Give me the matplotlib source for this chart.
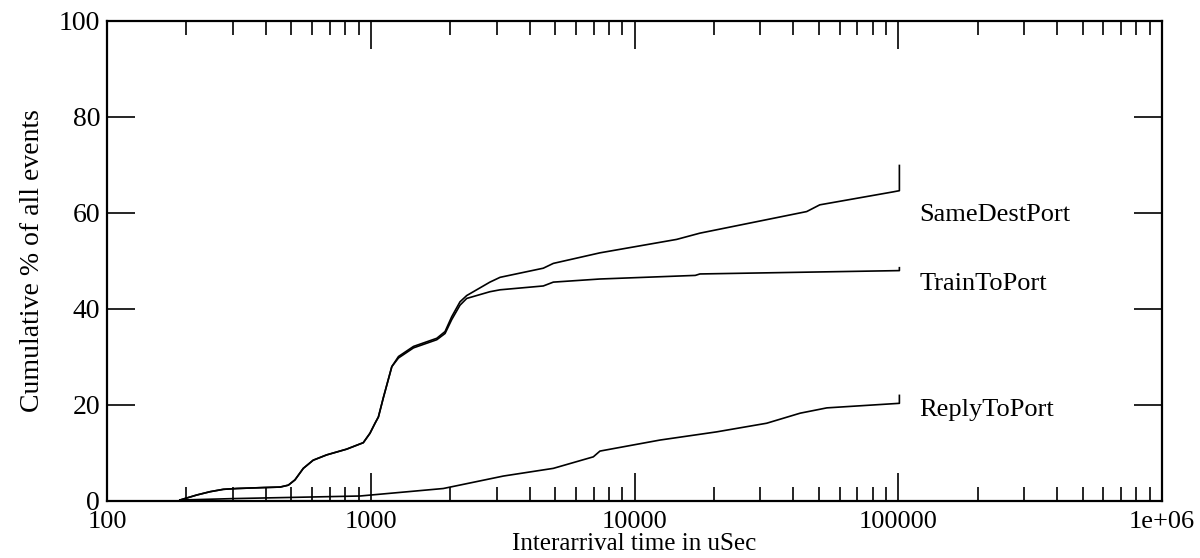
import matplotlib
matplotlib.use("Agg")
import matplotlib.pyplot as plt
from matplotlib.ticker import LogLocator, FixedLocator, NullFormatter

plt.rcParams['font.family'] = ['Liberation Serif', 'DejaVu Serif']

# cumulative % of events vs interarrival time (uSec)
same_x = [189, 219, 246, 276, 310, 392, 453, 487, 516, 555, 605, 680, 810, 937, 993,
          1038, 1069, 1116, 1202, 1274, 1452, 1780, 1913, 2028, 2180, 2311, 2830, 3093,
          4510, 4923, 7396, 14450, 17700, 44970, 50400, 95600, 101000, 101000]
same_y = [0.2, 1.25, 1.94, 2.43, 2.6, 2.8, 2.9, 3.3, 4.4, 6.8, 8.5, 9.6, 10.8, 12.15, 14.1,
          16.2, 17.5, 21.5, 28.0, 30.1, 32.2, 33.9, 35.3, 38.4, 41.5, 42.8, 45.6, 46.6,
          48.5, 49.5, 51.7, 54.5, 55.8, 60.3, 61.7, 64.4, 64.65, 69.9]

train_x = [189, 219, 246, 276, 310, 392, 453, 487, 516, 555, 605, 680, 810, 937, 993,
           1038, 1069, 1116, 1202, 1274, 1452, 1780, 1913, 2028, 2180, 2311, 2830, 3093,
           4510, 4923, 7396, 17000, 17700, 101000, 101000]
train_y = [0.2, 1.25, 1.94, 2.43, 2.6, 2.8, 2.9, 3.3, 4.4, 6.8, 8.5, 9.6, 10.8, 12.15, 14.1,
           16.2, 17.5, 21.5, 28.0, 29.8, 31.9, 33.6, 34.9, 37.8, 40.8, 42.2, 43.6, 44.0,
           44.8, 45.6, 46.25, 47.0, 47.3, 48.0, 48.6]

reply_x = [189, 301, 910, 1883, 3185, 4923, 6980, 7396, 12500, 20470, 31700, 42500,
           53600, 101000, 101000]
reply_y = [0.2, 0.5, 1.04, 2.6, 5.2, 6.8, 9.2, 10.4, 12.7, 14.4, 16.2, 18.3,
           19.4, 20.35, 22.0]

labels = ['SameDestPort', 'TrainToPort', 'ReplyToPort']
label_y = [59.6, 45.3, 19.0]

fig = plt.figure(figsize=(12, 5.58), dpi=100)
ax = fig.add_axes([107 / 1200, 57 / 558, 1055 / 1200, 480 / 558])

for xs, ys in [(same_x, same_y), (train_x, train_y), (reply_x, reply_y)]:
    ax.plot(xs, ys, color='black', lw=1.2)

for lab, ly in zip(labels, label_y):
    ax.text(120000, ly, lab, fontsize=19, va='center', ha='left')

ax.set_xscale('log')
ax.set_xlim(100, 1e6)
ax.set_ylim(0, 100)
ax.xaxis.set_major_locator(FixedLocator([100, 1000, 10000, 100000, 1e6]))
ax.set_xticklabels(['100', '1000', '10000', '100000', '1e+06'])
ax.xaxis.set_minor_locator(LogLocator(base=10, subs=range(2, 10)))
ax.xaxis.set_minor_formatter(NullFormatter())
ax.set_yticks([0, 20, 40, 60, 80, 100])

ax.tick_params(which='major', direction='in', length=20, width=1.2,
               top=True, right=True, labelsize=20, pad=5)
ax.tick_params(axis='x', which='major', labelsize=19, pad=7)
ax.tick_params(which='minor', direction='in', length=10, width=1.2,
               top=True, right=True)
for sp in ax.spines.values():
    sp.set_linewidth(1.6)

ax.set_xlabel('Interarrival time in uSec', fontsize=18, labelpad=0)
ax.set_ylabel('Cumulative % of all events', fontsize=20, labelpad=10)

fig.savefig('out.png', dpi=100)
